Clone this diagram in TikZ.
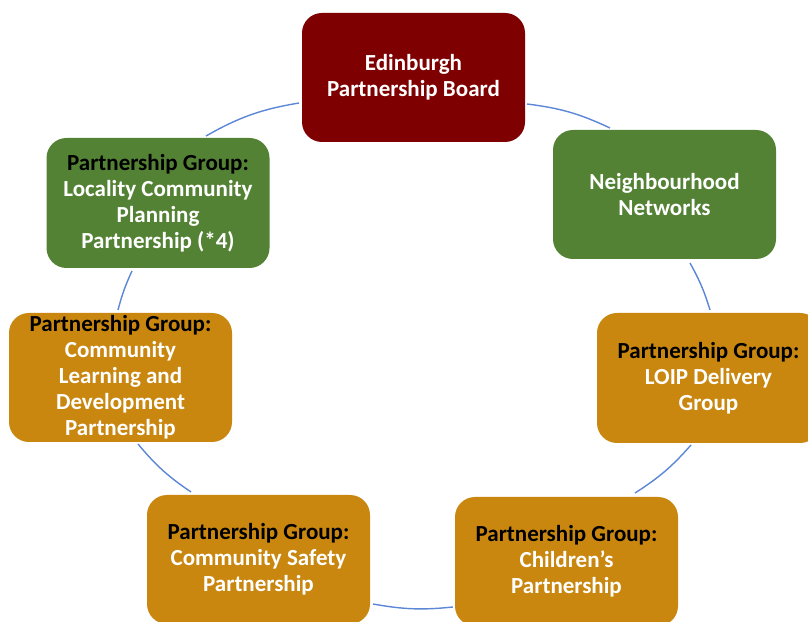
\documentclass[tikz,border=0pt]{standalone}
\usepackage{fontspec}
\setmainfont{Carlito}
\definecolor{epbred}{HTML}{7F0000}
\definecolor{pgreen}{HTML}{548235}
\definecolor{porange}{HTML}{C9870F}
\definecolor{arcblue}{HTML}{5B87D6}
\begin{document}
\begin{tikzpicture}[x=1pt,y=1pt,
  box/.style={rectangle, rounded corners=20pt, minimum width=223pt, minimum height=129pt,
    inner sep=0pt, align=center, text=white, font=\fontsize{23}{26}\selectfont\bfseries},
  ring/.style={draw=arcblue, line width=1.4pt}]
\useasboundingbox (0,0) rectangle (808,621);
\fill[white] (0,0) rectangle (808,621);
\clip (0,0) rectangle (808,621);
\newcommand{\pghead}{\textcolor{black}{Partnership Group:}}

% arc end coordinates
\coordinate (a1s) at (206,485); \coordinate (a1e) at (299,518);
\coordinate (a2s) at (527,517); \coordinate (a2e) at (610,493);
\coordinate (a3s) at (690,358); \coordinate (a3e) at (710,311);
\coordinate (a4s) at (691,176); \coordinate (a4e) at (635,128);
\coordinate (a5s) at (453,14);  \coordinate (a5e) at (373,17);
\coordinate (a6s) at (191,129); \coordinate (a6e) at (138,177);
\coordinate (a7s) at (118,311); \coordinate (a7e) at (132,350);

\draw[ring] (a1s) to[bend left=10] (a1e);
\draw[ring] (a2s) to[bend left=9] (a2e);
\draw[ring] (a3s) to[bend left=6] (a3e);
\draw[ring] (a4s) to[bend left=8] (a4e);
\draw[ring] (a5s) to[bend left=8] (a5e);
\draw[ring] (a6s) to[bend left=8] (a6e);
\draw[ring] (a7s) to[bend left=5] (a7e);

\node[box, fill=epbred] (epb) at (413.5,543.5) {Edinburgh\\Partnership Board};
\node[box, fill=pgreen] (nn) at (664.5,426.5) {Neighbourhood\\Networks};
\node[box, fill=porange, minimum height=130pt] (loip) at (708.5,243) {\pghead\\LOIP Delivery\\Group};
\node[box, fill=porange] (cp) at (566.5,59.5) {\pghead\\Children’s\\Partnership};
\node[box, fill=porange] (csp) at (258.5,61.5) {\pghead\\Community Safety\\Partnership};
\node[box, fill=porange] (cld) at (120.5,243.5) {\pghead\\Community\\Learning and\\Development\\Partnership};
\node[box, fill=pgreen, minimum height=130pt] (lcpp) at (158,418) {\pghead\\Locality Community\\Planning\\Partnership (*4)};
\end{tikzpicture}
\end{document}
